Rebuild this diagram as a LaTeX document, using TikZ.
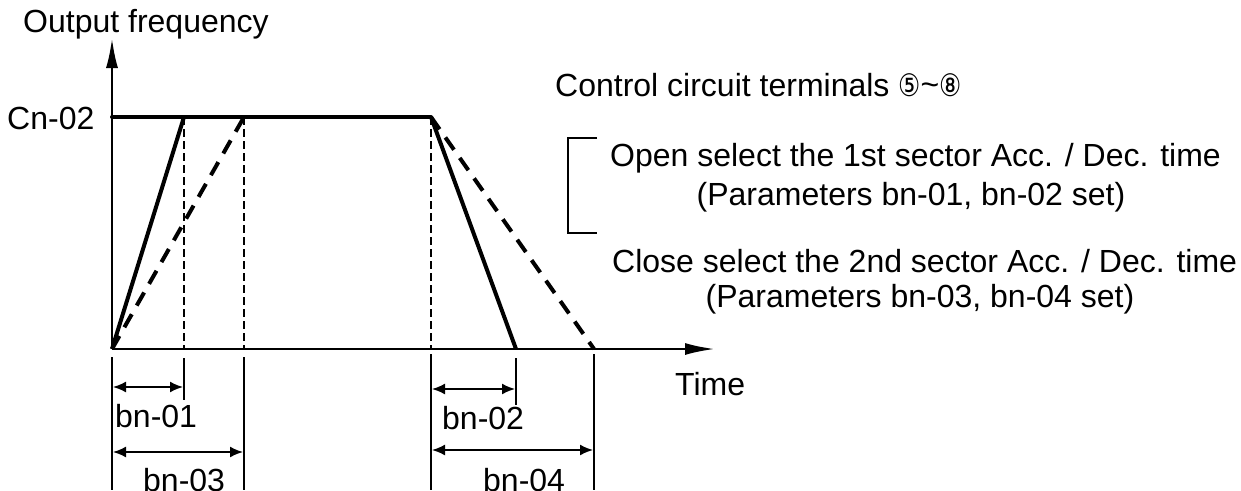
\documentclass[tikz,border=0pt]{standalone}
\usepackage{fontspec}
\usepackage{graphicx}
\setmainfont{Liberation Sans}
\newfontfamily\symfont{DejaVu Sans}
\usetikzlibrary{arrows.meta}
\newcommand{\circdig}[1]{\scalebox{0.8}[1]{\symfont\fontsize{31}{36}\selectfont #1}}
\begin{document}
\begin{tikzpicture}[x=1pt,y=-1pt,
  lbl/.style={inner sep=0pt, font=\fontsize{32}{38}\selectfont},
  axisline/.style={line width=2.6pt, -{Latex[length=30pt,width=12pt]}},
  heavyline/.style={line width=4pt},
  heavydash/.style={line width=4pt, dash pattern=on 15pt off 10pt},
  guidedash/.style={line width=1.5pt, dash pattern=on 8pt off 4pt},
  dimline/.style={line width=1.8pt},
  dimarrow/.style={line width=1.8pt, {Latex[length=13pt,width=11pt]}-{Latex[length=13pt,width=11pt]}},
  bracketline/.style={line width=1.5pt}]
\useasboundingbox (0,0) rectangle (1241,490);

% key points
\coordinate (O) at (112,349);
\coordinate (Ytip) at (112,38);
\coordinate (Xtip) at (715,349);
\coordinate (Ytop) at (112,117);
\coordinate (A1) at (184,117);
\coordinate (A2) at (244,117);
\coordinate (D0) at (431,117);
\coordinate (A1b) at (184,349);
\coordinate (A2b) at (244,349);
\coordinate (D0b) at (431,349);
\coordinate (D1) at (516,349);
\coordinate (D2) at (594,349);

% axes
\draw[axisline] (O) -- (Ytip);
\draw[axisline] (O) -- (Xtip);

% level line and ramps
\draw[heavyline, line cap=round] (Ytop) -- (D0);
\draw[heavyline] (O) -- (A1);
\draw[heavyline] (D0) -- (D1);
\draw[heavydash] (O) -- (A2);
\draw[heavydash] (D0) -- (D2);

% guide verticals
\draw[guidedash] (A1) -- (A1b);
\draw[guidedash] (A2) -- (A2b);
\draw[guidedash] (D0) -- (D0b);

% dimension extension lines
\coordinate (E0t) at (112,357); \coordinate (E0b) at (112,490);
\coordinate (E1t) at (184,358); \coordinate (E1b) at (184,400);
\coordinate (E2t) at (244,357); \coordinate (E2b) at (244,490);
\coordinate (E3t) at (431,354); \coordinate (E3b) at (431,490);
\coordinate (E4t) at (516,358); \coordinate (E4b) at (516,405);
\coordinate (E5t) at (594,354); \coordinate (E5b) at (594,490);
\draw[dimline] (E0t) -- (E0b);
\draw[dimline] (E1t) -- (E1b);
\draw[dimline] (E2t) -- (E2b);
\draw[dimline] (E3t) -- (E3b);
\draw[dimline] (E4t) -- (E4b);
\draw[dimline] (E5t) -- (E5b);

% dimension arrows
\coordinate (M1a) at (113,387); \coordinate (M1b) at (183,387);
\coordinate (M3a) at (113,452); \coordinate (M3b) at (243,452);
\coordinate (M2a) at (432,389); \coordinate (M2b) at (515,389);
\coordinate (M4a) at (432,450); \coordinate (M4b) at (593,450);
\draw[dimarrow] (M1a) -- (M1b);
\draw[dimarrow] (M3a) -- (M3b);
\draw[dimarrow] (M2a) -- (M2b);
\draw[dimarrow] (M4a) -- (M4b);

% bracket
\coordinate (B1) at (597,138);
\coordinate (B2) at (568,138);
\coordinate (B3) at (568,233);
\coordinate (B4) at (597,233);
\draw[bracketline] (B1) -- (B2) -- (B3) -- (B4);

% labels
\node[lbl, anchor=base west] (yl) at (23,32) {Output frequency};
\node[lbl, anchor=base west] (cn) at (7,129) {Cn-02};
\node[lbl, anchor=base west] (tl) at (675,395) {Time};
\node[lbl, anchor=base west] (b1) at (115,427) {bn-01};
\node[lbl, anchor=base west] (b2) at (442,429) {bn-02};
\node[lbl, anchor=base west] (b3) at (143,491) {bn-03};
\node[lbl, anchor=base west] (b4) at (483,491) {bn-04};
\node[lbl, anchor=base west] (ctl) at (555,96) {Control circuit terminals \circdig{⑤}\raisebox{1pt}{\textasciitilde}\circdig{⑧}};
\node[lbl, anchor=base west] (op) at (610,166) {Open select the 1st sector Acc. / Dec. time};
\node[lbl, anchor=base] (p1) at (911,205) {(Parameters bn-01, bn-02 set)};
\node[lbl, anchor=base west] (cl) at (612,272) {Close select the 2nd sector Acc. / Dec. time};
\node[lbl, anchor=base] (p2) at (920,307) {(Parameters bn-03, bn-04 set)};
\end{tikzpicture}
\end{document}
